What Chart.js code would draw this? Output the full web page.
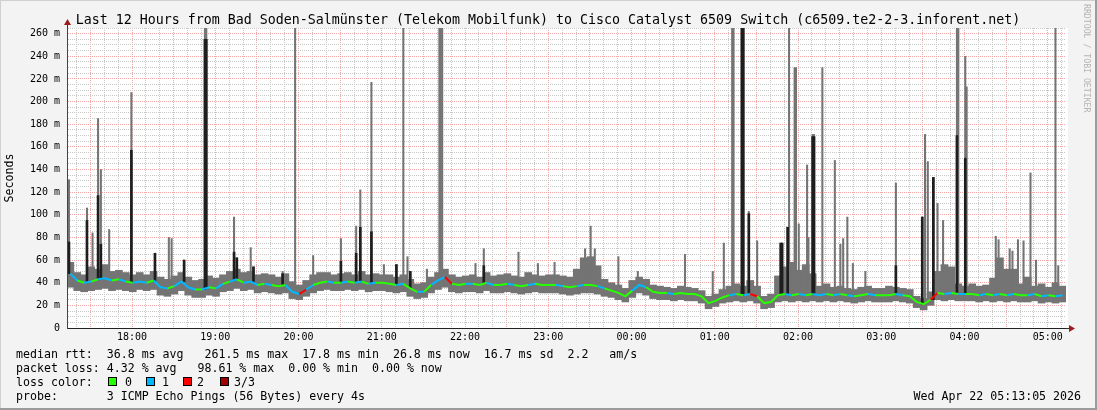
<!DOCTYPE html>
<html>
<head>
<meta charset="utf-8">
<script src="https://cdn.jsdelivr.net/npm/chart.js@4.4.1/dist/chart.umd.min.js"></script>
<style>
  html, body { margin: 0; padding: 0; background: #f3f3f3; }
  canvas { display: block; }
</style>
</head>
<body>
<canvas id="smoke" width="1097" height="410"></canvas>
<script>
// -------------------- Data (ms) --------------------
const startTime = '17:13';
const stepMinutes = 5;

// median rtt per 5 minute step, 17:13 .. 05:13
const median = [
  48, 42, 40, 41, 43, 44, 42, 43, 41, 40,
  41, 40, 42, 36, 35, 37, 41, 36, 34, 34, 36, 35,
  39, 41, 43, 40, 41, 38, 39, 38, 37, 38, 32, 30,
  34, 38, 40, 41, 40, 40, 41, 40, 41, 39, 40, 40,
  39, 38, 39, 35, 32, 32, 38, 42, 45, 39, 38, 39,
  39, 38, 40, 38, 38, 39, 38, 37, 38, 39, 38, 38,
  38, 37, 36, 37, 38, 38, 37, 35, 33, 31, 28, 33,
  38, 36, 32, 31, 31, 30, 31, 30, 30, 28, 22, 24,
  27, 29, 30, 29, 30, 28, 22, 23, 29, 30, 29, 30,
  29, 30, 29, 30, 29, 30, 29, 28, 29, 30, 29, 29,
  29, 30, 29, 28, 23, 21, 25, 31, 30, 31, 30, 30,
  30, 29, 30, 29, 30, 29, 30, 29, 29, 30, 28, 29,
  28, 29
];

// smoke band (fastest / slowest ping) per step
const smokeLow = [
  36, 33, 32, 33, 34, 35, 33, 34, 33, 32,
  34, 33, 34, 29, 28, 30, 33, 29, 27, 27, 29, 28,
  32, 33, 35, 33, 34, 31, 32, 31, 30, 31, 26, 25,
  28, 31, 33, 34, 33, 33, 34, 33, 34, 32, 33, 33,
  32, 31, 32, 28, 26, 27, 31, 34, 36, 32, 31, 32,
  32, 31, 33, 31, 31, 32, 31, 30, 31, 32, 31, 31,
  31, 30, 29, 30, 31, 31, 30, 28, 27, 25, 23, 27,
  31, 29, 26, 25, 25, 24, 25, 24, 24, 22, 17, 19,
  22, 23, 24, 23, 24, 22, 17, 18, 23, 24, 23, 24,
  23, 24, 23, 24, 23, 24, 23, 22, 23, 24, 23, 23,
  23, 24, 23, 22, 18, 16, 20, 25, 24, 25, 24, 24,
  24, 23, 24, 23, 24, 23, 24, 23, 23, 24, 22, 23,
  22, 23
];
const smokeHigh = [
  58, 49, 47, 54, 52, 56, 50, 51, 49, 47,
  49, 47, 50, 45, 43, 46, 49, 45, 42, 43, 46, 44,
  47, 50, 52, 49, 50, 47, 48, 47, 45, 48, 41, 38,
  42, 47, 49, 49, 47, 48, 49, 47, 50, 47, 48, 47,
  47, 45, 47, 43, 39, 40, 45, 49, 52, 47, 45, 46,
  47, 45, 49, 46, 47, 48, 46, 45, 49, 47, 46, 47,
  47, 46, 45, 52, 62, 63, 55, 43, 40, 38, 35, 42,
  45, 43, 38, 37, 36, 35, 37, 36, 35, 33, 28, 30,
  34, 37, 39, 37, 42, 37, 28, 30, 46, 54, 58, 51,
  56, 48, 37, 39, 36, 37, 35, 34, 36, 37, 35, 35,
  37, 36, 35, 34, 28, 26, 32, 50, 56, 54, 39, 37,
  39, 37, 38, 44, 62, 52, 52, 39, 45, 37, 39, 36,
  40, 37
];

// lost pings (of 3) per step
const lossCount = [
  1, 0, 1, 0, 1, 1, 0, 1, 0, 1,
  1, 0, 1, 1, 0, 1, 1, 1, 0, 1, 0, 1,
  0, 1, 0, 1, 1, 0, 1, 0, 0, 1, 1, 2,
  1, 0, 0, 1, 0, 1, 0, 1, 0, 1, 0, 0,
  0, 1, 0, 0, 1, 0, 1, 1, 2, 0, 0, 1,
  0, 0, 1, 0, 0, 1, 0, 0, 1, 0, 0, 0,
  1, 0, 0, 1, 0, 0, 1, 0, 0, 0, 0, 1,
  1, 0, 0, 0, 1, 0, 0, 0, 0, 0, 0, 0,
  0, 1, 0, 1, 2, 0, 0, 0, 0, 1, 0, 1,
  0, 1, 1, 0, 1, 0, 1, 0, 0, 1, 0, 0,
  0, 1, 0, 0, 0, 0, 2, 0, 1, 0, 1, 0,
  0, 1, 0, 1, 0, 1, 0, 0, 1, 0, 1, 0,
  1, 0
];

// single slow samples: time, slowest ping, median (0 = median stayed low)
const spikeTime = [
  '17:14', '17:27', '17:31', '17:35', '17:37', '17:43', '17:59', '18:16', '18:26', '18:28',
  '18:37', '18:52', '18:53', '19:13', '19:15', '19:25', '19:27', '19:48', '19:57', '20:10',
  '20:30', '20:41', '20:44', '20:52', '21:01', '21:10', '21:15', '21:18', '21:20', '21:32',
  '21:41', '21:42', '21:43', '22:07', '22:13', '22:38', '22:52', '23:04', '23:26', '23:30',
  '23:33', '23:50', '00:04', '00:38', '00:58', '01:06', '01:12', '01:13', '01:19', '01:20',
  '01:24', '01:30', '01:47', '01:48', '01:52', '01:53', '01:57', '01:58', '02:00', '02:06',
  '02:07', '02:10', '02:11', '02:17', '02:26', '02:30', '02:32', '02:35', '02:39', '02:48',
  '03:10', '03:29', '03:31', '03:33', '03:37', '03:40', '03:44', '03:54', '03:55', '04:00',
  '04:01', '04:22', '04:24', '04:32', '04:34', '04:38', '04:42', '04:47', '04:51', '05:05',
  '05:07'
];
const spikeMax = [
  131, 106, 84, 185, 140, 87, 208, 66, 80, 79,
  60, 270, 270, 98, 62, 71, 54, 50, 270, 64,
  79, 90, 122, 217, 56, 56, 270, 63, 50, 52,
  270, 270, 270, 57, 70, 67, 57, 58, 70, 90,
  70, 63, 50, 65, 50, 75, 270, 270, 270, 270,
  103, 77, 75, 75, 89, 270, 230, 230, 92, 144,
  80, 171, 171, 230, 148, 74, 79, 98, 57, 50,
  128, 98, 171, 147, 133, 110, 95, 270, 270, 240,
  213, 81, 78, 70, 68, 78, 77, 137, 60, 270,
  55
];
const spikeMid = [
  76, 95, 0, 117, 74, 0, 157, 66, 0, 0,
  60, 255, 255, 67, 62, 0, 54, 48, 0, 0,
  59, 66, 89, 85, 0, 56, 0, 0, 50, 0,
  0, 0, 0, 0, 55, 0, 0, 0, 0, 0,
  0, 0, 0, 0, 0, 0, 0, 0, 270, 270,
  101, 0, 75, 75, 89, 0, 0, 0, 0, 0,
  0, 169, 169, 0, 0, 0, 0, 0, 0, 0,
  55, 98, 0, 0, 133, 0, 0, 170, 0, 150,
  0, 0, 0, 0, 0, 0, 0, 0, 0, 0,
  0
];

const hourLabels = ['18:00', '19:00', '20:00', '21:00', '22:00', '23:00', '00:00', '01:00', '02:00', '03:00', '04:00', '05:00'];
const yLabels = ['0', '20 m', '40 m', '60 m', '80 m', '100 m', '120 m', '140 m', '160 m', '180 m', '200 m', '220 m', '240 m', '260 m'];

const titleText = 'Last 12 Hours from Bad Soden-Salmünster (Telekom Mobilfunk) to Cisco Catalyst 6509 Switch (c6509.te2-2-3.inforent.net)';
const statLines = [
  'median rtt:  36.8 ms avg   261.5 ms max  17.8 ms min  26.8 ms now  16.7 ms sd  2.2   am/s',
  'packet loss: 4.32 % avg   98.61 % max  0.00 % min  0.00 % now',
  'loss color:',
  'probe:       3 ICMP Echo Pings (56 Bytes) every 4s'
];
const lossNames = ['0', '1', '2', '3/3'];
const stampText = 'Wed Apr 22 05:13:05 2026';

// -------------------- Styles --------------------
const MONO = "'DejaVu Sans Mono', monospace";
const lossColor = ['#26ff00', '#00b8ff', '#ff0000', '#a00000'];
const SMOKE = '#747474';
const DARK = '#1e1e1e';
const GRID = '#c8c8c8';
const MGRID = '#f2a6a6';

// minutes relative to 18:00 (times before noon belong to the next day)
function toMin(s){
  let [h, m] = s.split(':').map(Number);
  if(h < 12) h += 24;
  return h * 60 + m - 18 * 60;
}

const t0 = toMin(startTime);
const stepX = median.map((_, i) => t0 + i * stepMinutes + stepMinutes / 2);
const baseAt = x => median[Math.max(0, Math.min(median.length - 1, Math.floor((x - t0) / stepMinutes)))];

const smokeData = stepX.map((x, i) => ({x, y: [smokeLow[i], smokeHigh[i]]}));
const medianData = stepX.map((x, i) => ({x, y: median[i]}));
const spikeData = spikeTime.map((t, i) => {
  const x = toMin(t) + 0.5;
  return {x, y: [baseAt(x), spikeMax[i]]};
});
const spikeMidData = spikeTime
  .map((t, i) => ({x: toMin(t) + 0.5, mid: spikeMid[i]}))
  .filter(d => d.mid > 0)
  .map(d => ({x: d.x, y: [baseAt(d.x), d.mid]}));

// -------------------- Frame, title, legend --------------------
const rrdDecor = {
  id: 'rrdDecor',
  beforeDraw(chart){
    const {ctx, chartArea: a} = chart;
    ctx.save();
    ctx.fillStyle = '#f3f3f3';
    ctx.fillRect(0, 0, chart.width, chart.height);
    ctx.fillStyle = '#ffffff';
    ctx.fillRect(a.left, a.top, a.right - a.left + 2, a.bottom - a.top);
    ctx.restore();
  },
  afterDraw(chart){
    const {ctx, chartArea: a} = chart;
    ctx.save();

    // axis extensions + arrows
    ctx.strokeStyle = '#333';
    ctx.lineWidth = 1;
    ctx.beginPath();
    ctx.moveTo(a.left + 0.5, a.top);
    ctx.lineTo(a.left + 0.5, a.top - 4);
    ctx.moveTo(a.right, a.bottom + 0.5);
    ctx.lineTo(a.right + 4, a.bottom + 0.5);
    ctx.stroke();
    ctx.fillStyle = '#9b1c1c';
    ctx.beginPath();
    ctx.moveTo(a.left + 0.5, a.top - 9);
    ctx.lineTo(a.left - 3, a.top - 3);
    ctx.lineTo(a.left + 4, a.top - 3);
    ctx.closePath();
    ctx.fill();
    ctx.beginPath();
    ctx.moveTo(a.right + 9, a.bottom + 0.5);
    ctx.lineTo(a.right + 3, a.bottom - 3);
    ctx.lineTo(a.right + 3, a.bottom + 4);
    ctx.closePath();
    ctx.fill();

    // title
    ctx.fillStyle = '#000';
    ctx.font = `13.3px ${MONO}`;
    ctx.textAlign = 'center';
    ctx.textBaseline = 'alphabetic';
    ctx.fillText(titleText, 548, 24);

    // legend lines
    ctx.font = `11.6px ${MONO}`;
    ctx.textAlign = 'left';
    statLines.forEach((line, i) => ctx.fillText(line, 16, 358 + i * 14));

    const boxX = [108, 146, 183, 220];
    const nameX = [125, 162, 197, 234];
    lossNames.forEach((name, i) => {
      ctx.fillStyle = lossColor[i];
      ctx.fillRect(boxX[i], 377, 9, 9);
      ctx.strokeStyle = '#000';
      ctx.strokeRect(boxX[i] + 0.5, 377.5, 8, 8);
      ctx.fillStyle = '#000';
      ctx.fillText(name, nameX[i], 386);
    });

    ctx.textAlign = 'right';
    ctx.fillText(stampText, 1081, 400);

    // vertical credit
    ctx.save();
    ctx.translate(1084, 4);
    ctx.rotate(Math.PI / 2);
    ctx.font = `8.2px ${MONO}`;
    ctx.fillStyle = '#b4b4b4';
    ctx.textAlign = 'left';
    ctx.fillText('RRDTOOL / TOBI OETIKER', 0, 0);
    ctx.restore();

    // frame
    ctx.fillStyle = '#d0d0d0';
    ctx.fillRect(0, 0, chart.width, 1);
    ctx.fillRect(0, 0, 1, chart.height);
    ctx.fillStyle = '#9c9c9c';
    ctx.fillRect(0, chart.height - 2, chart.width, 2);
    ctx.fillRect(chart.width - 2, 0, 2, chart.height);
    ctx.restore();
  }
};

// -------------------- Chart --------------------
const chart = new Chart(document.getElementById('smoke'), {
  type: 'bar',
  data: {
    datasets: [
      {
        type: 'line',
        label: 'median rtt',
        data: medianData,
        borderWidth: 2,
        borderColor: lossColor[0],
        pointRadius: 0,
        tension: 0,
        segment: { borderColor: c => lossColor[lossCount[c.p0DataIndex]] },
        order: 0
      },
      {
        label: 'median spikes',
        data: spikeMidData,
        backgroundColor: DARK,
        barThickness: 2,
        grouped: false,
        order: 1
      },
      {
        label: 'slow pings',
        data: spikeData,
        backgroundColor: SMOKE,
        barThickness: 1.4,
        grouped: false,
        order: 2
      },
      {
        label: 'smoke',
        data: smokeData,
        backgroundColor: SMOKE,
        barThickness: 7,
        grouped: false,
        order: 3
      }
    ]
  },
  options: {
    responsive: false,
    animation: false,
    events: [],
    layout: { padding: { top: 28, right: 31, left: 0, bottom: 0 } },
    plugins: { legend: { display: false }, tooltip: { enabled: false }, title: { display: false } },
    scales: {
      x: {
        type: 'linear',
        offset: false,
        min: -46.9,
        max: 673.1,
        afterBuildTicks: scale => {
          const ticks = [];
          for(let v = -40; v <= 670; v += 10) ticks.push({ value: v });
          scale.ticks = ticks;
        },
        afterFit: scale => { scale.height = 82; },
        grid: {
          offset: false,
          color: c => (c.tick && c.tick.value % 30 === 0) ? MGRID : GRID,
          drawTicks: false,
          lineWidth: 1
        },
        border: { color: '#222', width: 1, dash: [1, 1], z: 1 },
        ticks: {
          autoSkip: false,
          maxRotation: 0,
          padding: 3,
          color: '#000',
          font: { family: MONO, size: 10 },
          callback: v => (v % 60 === 0) ? hourLabels[v / 60] : ''
        }
      },
      y: {
        min: 0,
        max: 265,
        afterBuildTicks: scale => {
          const ticks = [];
          for(let v = 0; v <= 265; v += 5) ticks.push({ value: v });
          scale.ticks = ticks;
        },
        afterFit: scale => { scale.width = 67; },
        grid: {
          color: c => (c.tick && c.tick.value % 20 === 0) ? MGRID : GRID,
          drawTicks: false,
          lineWidth: 1
        },
        border: { color: '#444', width: 1, dash: [1, 1], z: 1 },
        ticks: {
          autoSkip: false,
          padding: 7,
          color: '#000',
          font: { family: MONO, size: 10 },
          callback: v => (v % 20 === 0) ? yLabels[v / 20] : ''
        },
        title: {
          display: true,
          text: 'Seconds',
          color: '#000',
          font: { family: MONO, size: 11.6 },
          padding: { top: 3, bottom: 0 }
        }
      }
    }
  },
  plugins: [rrdDecor]
});
</script>
</body>
</html>
